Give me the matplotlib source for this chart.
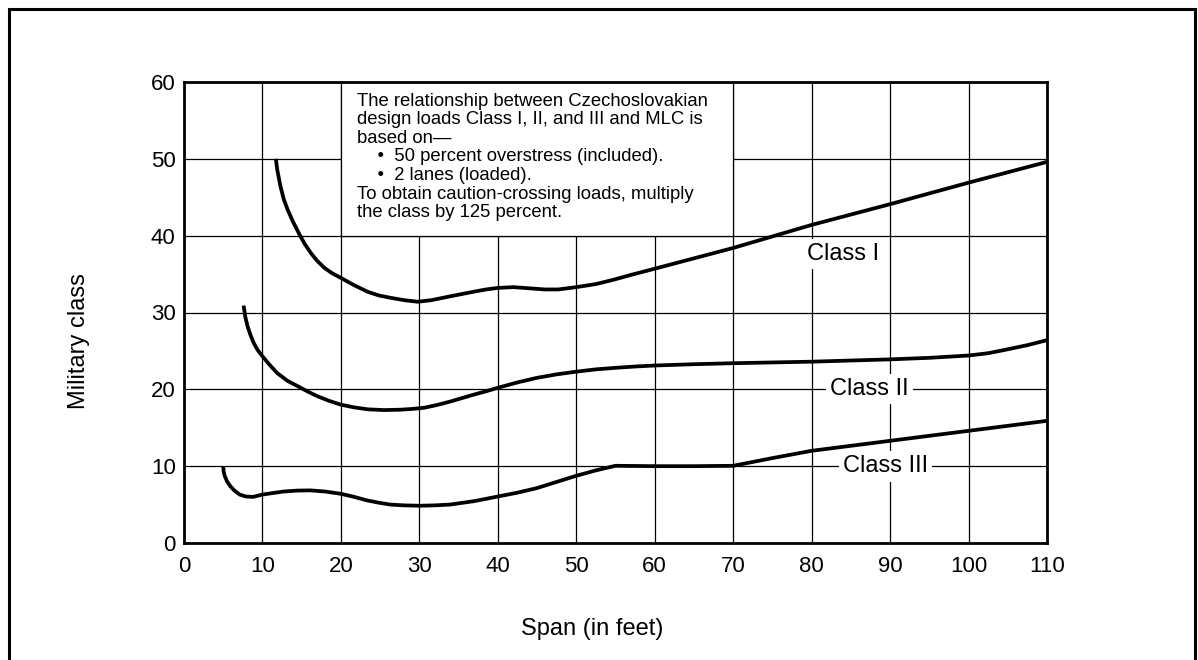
import matplotlib
matplotlib.use("Agg")
import matplotlib.pyplot as plt
from matplotlib.patches import Rectangle

plt.rcParams['font.family'] = ['Liberation Sans', 'DejaVu Sans']

# ---- data ----
class1_x = [11.7, 11.9, 12.3, 12.7, 13.2, 13.9, 14.7, 15.4, 16.2, 17.0, 17.9, 18.9, 20.0,
            21.6, 23.4, 24.9, 26.4, 28.1, 29.8, 31.5, 33.9, 36.9, 38.5, 40.0, 42.0, 44.0,
            46.0, 47.7, 50.0, 52.5, 54.7, 57.0, 60.0, 70.0, 80.0, 90.0, 100.0, 110.0]
class1_y = [50.0, 48.5, 46.4, 44.8, 43.4, 41.8, 40.2, 38.9, 37.7, 36.7, 35.8, 35.1, 34.5,
            33.6, 32.7, 32.2, 31.9, 31.6, 31.4, 31.6, 32.1, 32.7, 33.0, 33.2, 33.3, 33.15,
            33.0, 33.0, 33.3, 33.7, 34.25, 34.9, 35.7, 38.4, 41.4, 44.1, 46.9, 49.6]

class2_x = [7.6, 7.8, 8.1, 8.5, 8.9, 9.4, 10.0, 10.9, 11.9, 13.2, 14.7, 15.8, 17.0, 18.5,
            20.0, 21.7, 23.4, 25.5, 27.6, 29.1, 30.6, 32.2, 33.9, 35.4, 36.9, 38.5, 40.0,
            42.5, 45.0, 47.5, 50.0, 52.5, 55.0, 57.5, 60.0, 65.0, 70.0, 80.0, 90.0, 95.0,
            100.0, 102.5, 104.7, 107.5, 110.0]
class2_y = [30.9, 29.5, 28.2, 27.0, 26.0, 25.1, 24.3, 23.2, 22.1, 21.1, 20.3, 19.7, 19.1, 18.5,
            18.0, 17.65, 17.4, 17.3, 17.35, 17.45, 17.6, 17.95, 18.4, 18.85, 19.3, 19.75, 20.2,
            20.9, 21.5, 21.95, 22.3, 22.6, 22.8, 22.97, 23.1, 23.27, 23.4, 23.6, 23.9, 24.1,
            24.4, 24.7, 25.15, 25.75, 26.4]

class3_x = [5.0, 5.05, 5.2, 5.5, 5.9, 6.4, 7.1, 7.9, 8.8, 10.0, 11.3, 12.7, 14.4, 16.1,
            18.0, 20.0, 21.7, 23.3, 24.8, 26.3, 28.0, 30.0, 32.0, 33.9, 37.0, 40.0, 42.5,
            45.0, 47.5, 50.0, 52.5, 55.0, 60.0, 65.0, 70.0, 75.0, 80.0, 90.0, 100.0, 110.0]
class3_y = [10.0, 9.3, 8.7, 8.0, 7.4, 6.85, 6.3, 6.05, 6.0, 6.3, 6.5, 6.7, 6.82, 6.85,
            6.7, 6.4, 6.0, 5.55, 5.25, 5.0, 4.9, 4.85, 4.9, 5.0, 5.45, 6.05, 6.55,
            7.15, 7.95, 8.75, 9.45, 10.05, 10.0, 10.0, 10.05, 11.05, 12.0, 13.3, 14.6, 15.9]

x_ticks = list(range(0, 111, 10))
y_ticks = list(range(0, 61, 10))

class_labels = ["Class I", "Class II", "Class III"]

note_lines = [
    "The relationship between Czechoslovakian",
    "design loads Class I, II, and III and MLC is",
    "based on\u2014",
    "    \u2022  50 percent overstress (included).",
    "    \u2022  2 lanes (loaded).",
    "To obtain caution-crossing loads, multiply",
    "the class by 125 percent.",
]

# ---- figure ----
W, H = 1198, 660
fig = plt.figure(figsize=(W / 100, H / 100), dpi=100)
ax = fig.add_axes([184 / W, 1 - 543 / H, (1047 - 184) / W, (543 - 82) / H])

ax.set_xlim(0, 110)
ax.set_ylim(0, 60)
ax.set_xticks(x_ticks)
ax.set_yticks(y_ticks)
ax.tick_params(axis='both', length=0, labelsize=16, colors='black')
ax.tick_params(axis='x', pad=9)
ax.tick_params(axis='y', pad=6)
ax.set_axisbelow(True)
ax.grid(True, color='black', linewidth=0.9)
for s in ax.spines.values():
    s.set_linewidth(2.0)
    s.set_color('black')
    s.set_zorder(5)

# white note box covering grid
ax.add_patch(Rectangle((20, 40), 50, 20, facecolor='white', edgecolor='black',
                       linewidth=0.9, zorder=1))

lw = 2.7
for xs, ys in [(class1_x, class1_y), (class2_x, class2_y), (class3_x, class3_y)]:
    ax.plot(xs, ys, color='black', linewidth=lw, solid_joinstyle='round',
            solid_capstyle='butt', zorder=3, clip_on=False)

# class labels
label_pos = [(79.4, 36.85), (82.4, 19.23), (84.0, 9.18)]
for txt, (lx, ly) in zip(class_labels, label_pos):
    ax.text(lx, ly, txt, fontsize=17, ha='left', va='baseline', zorder=2,
            bbox=dict(facecolor='white', edgecolor='none', pad=3))

# note text
first_base = 56.92
step = 2.42
for i, line in enumerate(note_lines):
    ax.text(22.0, first_base - i * step, line, fontsize=13.3, ha='left',
            va='baseline', zorder=2)

# axis labels
fig.text(592.5 / W, 1 - 635 / H, "Span (in feet)", fontsize=17, ha='center',
         va='baseline')
fig.text(85 / W, 1 - 341.5 / H, "Military class", fontsize=17, rotation=90,
         rotation_mode='anchor', ha='center', va='baseline')

# outer border
fig.patches.append(Rectangle((8.5 / W, -0.05), (1195 - 8.5) / W, 1.05 - 9 / H,
                             transform=fig.transFigure, fill=False,
                             edgecolor='black', linewidth=2.2))

fig.savefig("out.png", dpi=100)
